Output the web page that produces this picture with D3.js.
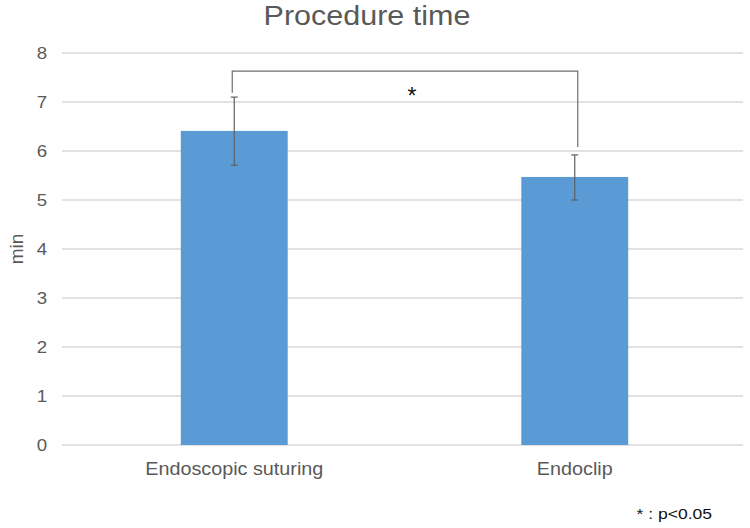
<!DOCTYPE html>
<meta charset="utf-8">
<script src="https://d3js.org/d3.v7.min.js"></script>
<style>
  body { margin: 0; background: #fff; }
  text { font-family: "Liberation Sans", Arial, sans-serif; }
</style>
<div id="chart"></div>
<script>
  // data
  var categories = ["Endoscopic suturing", "Endoclip"];
  var means = [6.41, 5.47];
  var errUp = [0.69, 0.45];
  var errDown = [0.70, 0.47];
  var yTicks = [0, 1, 2, 3, 4, 5, 6, 7, 8];
  // significance bracket: level and end heights (in min)
  var bracket = { level: 7.63, left: 7.19, right: 6.08, label: "*" };

  var width = 750, height = 528;
  var margin = { top: 53, right: 7, bottom: 83, left: 62 };
  var stretch = 1.13; // text in the reference is a little wider than Arial

  var svg = d3.select("#chart").append("svg")
      .attr("width", width)
      .attr("height", height);

  var x = d3.scaleBand()
      .domain(categories)
      .range([margin.left, width - margin.right])
      .padding(0);

  var y = d3.scaleLinear()
      .domain([0, 8])
      .range([height - margin.bottom, margin.top]);

  var barW = x.bandwidth() * 0.314;

  function widen(sel) {
      sel.each(function() {
          var w = this.getComputedTextLength();
          d3.select(this).attr("textLength", w * stretch).attr("lengthAdjust", "spacingAndGlyphs");
      });
  }

  // gridlines
  svg.append("g").selectAll("line")
      .data(yTicks)
      .enter().append("line")
      .attr("x1", margin.left)
      .attr("x2", width - margin.right)
      .attr("y1", d => y(d))
      .attr("y2", d => y(d))
      .style("stroke", "#d9d9d9")
      .style("stroke-width", 1.3);

  // y axis labels
  var yAxis = d3.axisLeft(y).tickValues(yTicks).tickSize(0).tickPadding(15);
  svg.append("g")
      .attr("transform", "translate(" + margin.left + ",0)")
      .call(yAxis)
      .call(g => g.select(".domain").remove())
      .selectAll("text")
      .style("font-size", "16.5px")
      .style("font-family", "'Liberation Sans', Arial, sans-serif")
      .style("fill", "#595959")
      .call(widen);

  // bars
  svg.append("g").selectAll("rect")
      .data(means)
      .enter().append("rect")
      .attr("x", (d, i) => x(categories[i]) + x.bandwidth() / 2 - barW / 2 + 2)
      .attr("width", barW)
      .attr("y", d => y(d))
      .attr("height", d => y(0) - y(d))
      .style("fill", "#5b9bd5");

  // error bars
  var eb = svg.append("g").style("stroke", "#5f5f5f").style("stroke-width", 1.2);
  means.forEach(function(m, i) {
      var cx = x(categories[i]) + x.bandwidth() / 2 + 2;
      var top = y(m + errUp[i]), bot = y(m - errDown[i]);
      eb.append("line").attr("x1", cx).attr("x2", cx).attr("y1", top).attr("y2", bot);
      eb.append("line").attr("x1", cx - 3.5).attr("x2", cx + 3.5).attr("y1", top).attr("y2", top);
      eb.append("line").attr("x1", cx - 3.5).attr("x2", cx + 3.5).attr("y1", bot).attr("y2", bot);
  });

  // x axis labels
  var xAxis = d3.axisBottom(x).tickSize(0).tickPadding(18);
  svg.append("g")
      .attr("transform", "translate(2," + y(0) + ")")
      .call(xAxis)
      .call(g => g.select(".domain").remove())
      .selectAll("text")
      .style("font-size", "17.5px")
      .style("font-family", "'Liberation Sans', Arial, sans-serif")
      .style("fill", "#595959")
      .call(widen);

  // significance bracket
  var bx1 = x(categories[0]) + x.bandwidth() / 2;
  var bx2 = x(categories[1]) + x.bandwidth() / 2 + 5;
  svg.append("path")
      .attr("d", "M" + bx1 + "," + y(bracket.left) + "V" + y(bracket.level) +
                 "H" + bx2 + "V" + y(bracket.right))
      .style("fill", "none")
      .style("stroke", "#6e6e6e")
      .style("stroke-width", 1.2);
  svg.append("text")
      .attr("x", (bx1 + bx2) / 2 + 7)
      .attr("y", y(bracket.level) + 33)
      .attr("text-anchor", "middle")
      .style("font-size", "23px")
      .style("fill", "#111")
      .text(bracket.label);

  // title
  svg.append("text")
      .attr("x", 367)
      .attr("y", 25)
      .attr("text-anchor", "middle")
      .style("font-size", "27px")
      .style("fill", "#595959")
      .text("Procedure time")
      .call(widen);

  // y axis title
  svg.append("text")
      .attr("transform", "translate(23," + y(4) + ") rotate(-90)")
      .attr("text-anchor", "middle")
      .style("font-size", "19px")
      .style("fill", "#595959")
      .text("min");

  // footnote
  svg.append("text")
      .attr("x", 712)
      .attr("y", 519)
      .attr("text-anchor", "end")
      .style("font-size", "15.5px")
      .style("fill", "#111")
      .text("* : p<0.05")
      .call(widen);
</script>
